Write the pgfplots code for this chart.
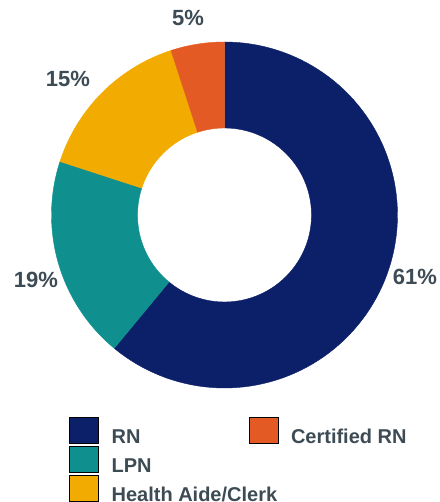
\documentclass[border=0pt]{standalone}
\usepackage{pgfplots}
\pgfplotsset{compat=1.18}
\usepackage{fontspec}
\setmainfont{Liberation Sans}
\definecolor{rn}{HTML}{0C1F69}
\definecolor{lpn}{HTML}{0F908E}
\definecolor{ha}{HTML}{F2AB00}
\definecolor{crn}{HTML}{E35A24}
\definecolor{txt}{HTML}{3D4B55}
% shares (percent)
\def\vRN{61}\def\vLPN{19}\def\vHA{15}\def\vCRN{5}
\pgfmathsetmacro\aA{90}
\pgfmathsetmacro\aB{\aA-3.6*\vRN}
\pgfmathsetmacro\aC{\aB-3.6*\vLPN}
\pgfmathsetmacro\aD{\aC-3.6*\vHA}
\pgfmathsetmacro\aE{\aD-3.6*\vCRN}
\def\cx{224.5}\def\cy{287}\def\Ro{173}\def\Ri{87}
\newcommand\ring[3]{%
\addplot[forget plot, fill=#1, draw=#1, line width=0.4pt,
  samples at={0,1,...,100,200,201,...,300}, variable=\t]
  ({\cx+((\t<150)?\Ro:\Ri)*cos((\t<150)?((#2)+((#3)-(#2))*\t/100):((#3)-((#3)-(#2))*(\t-200)/100))},
   {\cy+((\t<150)?\Ro:\Ri)*sin((\t<150)?((#2)+((#3)-(#2))*\t/100):((#3)-((#3)-(#2))*(\t-200)/100))}) -- cycle;}
\begin{document}
\begin{tikzpicture}
\path[use as bounding box] (0,0) rectangle (439pt,502pt);
\begin{axis}[at={(0,0)}, anchor=south west,
  width=439pt, height=502pt, scale only axis,
  xmin=0, xmax=439, ymin=0, ymax=502,
  hide axis, clip=false,
  legend columns=2,
  legend image code/.code={\fill[#1] (0pt,-6pt) rectangle (29pt,20pt);},
  legend style={at={(axis cs:69,85)}, anchor=north west, draw=none, fill=none,
    inner sep=0pt, row sep=1pt, text=txt,
    font=\bfseries\fontsize{20}{20}\selectfont,
    nodes={inner sep=0pt},
    /tikz/every odd column/.append style={column sep=13pt},
    /tikz/every even column/.append style={column sep=0pt}},
]
\ring{rn}{\aA}{\aB}
\ring{lpn}{\aB}{\aC}
\ring{ha}{\aC}{\aD}
\ring{crn}{\aD}{\aE}
\addlegendimage{fill=rn}\addlegendentry{\makebox[137pt][l]{RN}}
\addlegendimage{fill=crn}\addlegendentry{Certified RN}
\addlegendimage{fill=lpn}\addlegendentry{\makebox[137pt][l]{LPN}}
\addlegendimage{empty legend}\addlegendentry{}
\addlegendimage{fill=ha}\addlegendentry{\makebox[137pt][l]{Health Aide/Clerk}}
\begin{scope}[every node/.style={text=txt, font=\bfseries\fontsize{22}{22}\selectfont}]
\node at (axis cs:188,484.5) {5\%};
\node at (axis cs:68,423) {15\%};
\node at (axis cs:36,222) {19\%};
\node at (axis cs:415,225) {61\%};
\end{scope}
\end{axis}
\end{tikzpicture}
\end{document}
